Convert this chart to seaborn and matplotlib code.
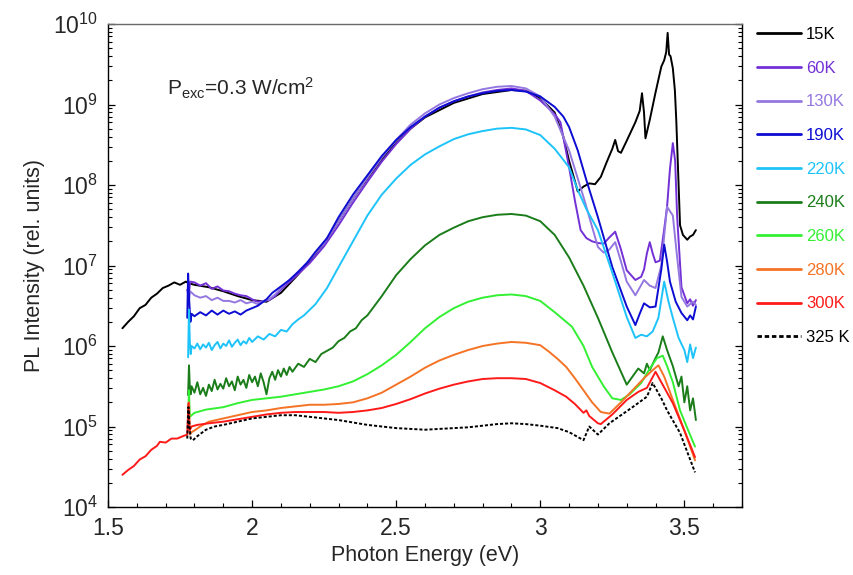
import numpy as np
import pandas as pd
import matplotlib
matplotlib.use("Agg")
import matplotlib.pyplot as plt
import seaborn as sns
from matplotlib.ticker import LogLocator, MultipleLocator

# Photoluminescence spectra, energy in eV and log10 of intensity (rel. units)
E_15K = [1.55, 1.57, 1.59, 1.61, 1.63, 1.65, 1.67, 1.69, 1.71, 1.73, 1.75, 1.77, 1.78,
         1.80, 1.85, 1.90, 1.95, 2.00, 2.05, 2.10, 2.15, 2.20, 2.25, 2.30, 2.35, 2.40,
         2.45, 2.50, 2.55, 2.60, 2.70, 2.80, 2.90, 2.95, 3.00, 3.05, 3.08, 3.10, 3.12,
         3.13, 3.15, 3.17, 3.19, 3.21, 3.23, 3.25, 3.26, 3.27, 3.28, 3.30, 3.33, 3.345,
         3.353, 3.36, 3.365, 3.38, 3.40, 3.42, 3.43, 3.437, 3.442, 3.447, 3.452, 3.46,
         3.467, 3.472, 3.478, 3.485, 3.495, 3.51, 3.52, 3.53, 3.54]
L_15K = [6.22, 6.30, 6.37, 6.47, 6.51, 6.60, 6.65, 6.72, 6.75, 6.79, 6.76, 6.80, 6.78,
         6.76, 6.73, 6.68, 6.62, 6.57, 6.55, 6.66, 6.85, 7.05, 7.28, 7.55, 7.83, 8.08,
         8.32, 8.52, 8.70, 8.84, 9.02, 9.13, 9.18, 9.17, 9.08, 8.90, 8.60, 8.30, 8.05,
         7.92, 7.98, 8.02, 8.01, 8.10, 8.28, 8.45, 8.56, 8.42, 8.40, 8.55, 8.78, 8.92,
         9.14, 8.90, 8.58, 8.81, 9.15, 9.47, 9.55, 9.65, 9.89, 9.62, 9.60, 9.45,
         9.18, 8.80, 8.20, 7.50, 7.38, 7.32, 7.36, 7.38, 7.44]

E_60K = [1.775, 1.78, 1.785, 1.80, 1.82, 1.84, 1.86, 1.88, 1.90, 1.92, 1.94, 1.96, 1.98,
         2.00, 2.02, 2.04, 2.06, 2.08, 2.10, 2.15, 2.20, 2.25, 2.30, 2.35, 2.40, 2.45,
         2.50, 2.55, 2.60, 2.65, 2.70, 2.75, 2.80, 2.85, 2.90, 2.95, 3.00, 3.03, 3.05,
         3.07, 3.10, 3.12, 3.14, 3.16, 3.18, 3.20, 3.22, 3.24, 3.26, 3.28, 3.30, 3.33,
         3.35, 3.36, 3.37, 3.38, 3.39, 3.40, 3.415, 3.43, 3.44, 3.45, 3.46, 3.468, 3.475,
         3.49, 3.51, 3.52, 3.53, 3.54]
L_60K = [6.70, 6.62, 6.80, 6.79, 6.75, 6.78, 6.71, 6.74, 6.69, 6.68, 6.65, 6.63, 6.62,
         6.58, 6.55, 6.56, 6.57, 6.62, 6.70, 6.86, 7.03, 7.24, 7.50, 7.78, 8.04, 8.29,
         8.51, 8.70, 8.85, 8.96, 9.04, 9.10, 9.15, 9.18, 9.20, 9.17, 9.05, 8.95, 8.88,
         8.78, 8.22, 7.81, 7.44, 7.34, 7.30, 7.28, 7.27, 7.35, 7.42, 7.20, 6.94, 6.82,
         6.86, 6.95, 7.15, 7.29, 7.15, 7.04, 7.06, 7.45, 7.73, 8.20, 8.52, 8.30, 7.60,
         6.73, 6.53, 6.58, 6.50, 6.57]

E_130K = [1.78, 1.785, 1.80, 1.82, 1.84, 1.86, 1.88, 1.90, 1.92, 1.94, 1.96, 1.98, 2.00,
          2.02, 2.04, 2.06, 2.08, 2.10, 2.15, 2.20, 2.25, 2.30, 2.35, 2.40, 2.45, 2.50,
          2.55, 2.60, 2.65, 2.70, 2.75, 2.80, 2.85, 2.90, 2.95, 3.00, 3.05, 3.10, 3.15,
          3.20, 3.22, 3.24, 3.26, 3.28, 3.30, 3.33, 3.36, 3.38, 3.40, 3.42, 3.44, 3.46,
          3.475, 3.49, 3.51, 3.53, 3.54]
L_130K = [6.55, 6.68, 6.63, 6.60, 6.62, 6.57, 6.60, 6.56, 6.56, 6.54, 6.57, 6.53, 6.55,
          6.52, 6.56, 6.58, 6.64, 6.72, 6.89, 7.07, 7.28, 7.55, 7.83, 8.09, 8.34, 8.56,
          8.75, 8.89, 9.00, 9.08, 9.14, 9.19, 9.22, 9.23, 9.20, 9.10, 8.85, 8.43, 7.85,
          7.23, 7.16, 7.20, 7.29, 7.05, 6.80, 6.63, 6.82, 6.75, 6.72, 7.00, 7.73, 7.62,
          7.10, 6.61, 6.49, 6.55, 6.51]

E_190K = [1.775, 1.778, 1.782, 1.786, 1.79, 1.80, 1.82, 1.84, 1.86, 1.88, 1.90, 1.92,
          1.94, 1.96, 1.98, 2.00, 2.02, 2.05, 2.07, 2.10, 2.13, 2.16, 2.19, 2.22, 2.26,
          2.30, 2.35, 2.40, 2.45, 2.50, 2.55, 2.60, 2.65, 2.70, 2.75, 2.80, 2.85, 2.90,
          2.95, 3.00, 3.05, 3.08, 3.10, 3.13, 3.16, 3.20, 3.25, 3.30, 3.33, 3.345, 3.36,
          3.38, 3.40, 3.42, 3.43, 3.44, 3.45, 3.47, 3.49, 3.51, 3.52, 3.53, 3.54]
L_190K = [6.35, 6.90, 6.55, 6.30, 6.40, 6.37, 6.42, 6.38, 6.44, 6.39, 6.44, 6.40,
          6.43, 6.39, 6.44, 6.47, 6.50, 6.58, 6.66, 6.74, 6.82, 6.92, 7.03, 7.17, 7.34,
          7.60, 7.88, 8.12, 8.36, 8.56, 8.72, 8.85, 8.96, 9.04, 9.10, 9.14, 9.17, 9.18,
          9.16, 9.10, 8.97, 8.85, 8.72, 8.43, 8.06, 7.60, 6.98, 6.49, 6.26, 6.40, 6.53,
          6.48, 6.49, 6.95, 7.26, 7.05, 6.80, 6.55, 6.41, 6.32, 6.38, 6.33, 6.49]

E_220K = [1.778, 1.781, 1.784, 1.787, 1.79, 1.80, 1.81, 1.82, 1.83, 1.84, 1.85, 1.86,
          1.87, 1.88, 1.89, 1.90, 1.91, 1.92, 1.93, 1.94, 1.95, 1.96, 1.97, 1.98, 1.99,
          2.00, 2.02, 2.04, 2.06, 2.08, 2.10, 2.12, 2.14, 2.16, 2.18, 2.20, 2.22, 2.24,
          2.26, 2.28, 2.30, 2.35, 2.40, 2.45, 2.50, 2.55, 2.60, 2.65, 2.70, 2.75, 2.80,
          2.85, 2.90, 2.95, 3.00, 3.05, 3.10, 3.13, 3.16, 3.20, 3.25, 3.30, 3.33, 3.35,
          3.37, 3.39, 3.41, 3.43, 3.445, 3.46, 3.48, 3.50, 3.51, 3.52, 3.53, 3.54]
L_220K = [5.86, 6.45, 6.05, 5.90, 6.00, 5.97, 6.03, 5.96, 6.02, 5.98, 6.04, 5.95,
          6.01, 6.05, 5.97, 6.03, 6.00, 6.07, 5.99, 6.04, 6.08, 6.01, 6.06, 6.03, 6.10,
          6.05, 6.12, 6.08, 6.15, 6.12, 6.20, 6.18, 6.27, 6.33, 6.38, 6.45, 6.52, 6.62,
          6.72, 6.85, 6.98, 7.30, 7.62, 7.88, 8.08, 8.25, 8.38, 8.48, 8.57, 8.63, 8.67,
          8.70, 8.71, 8.69, 8.62, 8.45, 8.22, 7.94, 7.70, 7.44, 6.91, 6.36, 6.10, 6.14,
          6.12, 6.18, 6.35, 6.80, 6.55, 6.35, 6.10, 5.95, 5.80, 6.02, 5.85, 5.98]

E_240K = [1.778, 1.781, 1.784, 1.787, 1.79, 1.80, 1.81, 1.82, 1.83, 1.84, 1.85, 1.86,
          1.87, 1.88, 1.89, 1.90, 1.91, 1.92, 1.93, 1.94, 1.95, 1.96, 1.97, 1.98, 1.99,
          2.00, 2.01, 2.02, 2.03, 2.04, 2.05, 2.06, 2.07, 2.08, 2.09, 2.10, 2.11, 2.12,
          2.13, 2.14, 2.16, 2.18, 2.20, 2.22, 2.24, 2.26, 2.28, 2.30, 2.32, 2.34, 2.36,
          2.38, 2.40, 2.45, 2.50, 2.55, 2.60, 2.65, 2.70, 2.75, 2.80, 2.85, 2.90, 2.95,
          3.00, 3.05, 3.10, 3.15, 3.20, 3.25, 3.30, 3.32, 3.34, 3.36, 3.37, 3.38, 3.40,
          3.41, 3.425, 3.44, 3.46, 3.48, 3.49, 3.50, 3.51, 3.52, 3.53, 3.54]
L_240K = [5.39, 5.76, 5.48, 5.40, 5.50, 5.42, 5.55, 5.40, 5.48, 5.38, 5.52, 5.44,
          5.58, 5.46, 5.53, 5.47, 5.60, 5.50, 5.56, 5.45, 5.62, 5.52, 5.58, 5.48, 5.64,
          5.55, 5.62, 5.50, 5.66, 5.55, 5.40, 5.60, 5.68, 5.58, 5.70, 5.62, 5.72, 5.64,
          5.74, 5.68, 5.78, 5.74, 5.84, 5.80, 5.90, 5.94, 5.98, 6.06, 6.10, 6.18, 6.22,
          6.32, 6.38, 6.62, 6.88, 7.08, 7.25, 7.38, 7.47, 7.55, 7.60, 7.63, 7.64, 7.62,
          7.55, 7.38, 7.10, 6.75, 6.35, 5.92, 5.52, 5.62, 5.72, 5.66, 5.78, 5.70, 5.85,
          5.92, 6.12, 5.95, 5.75, 5.50, 5.62, 5.30, 5.50, 5.20, 5.35, 5.08]

E_260K = [1.778, 1.781, 1.784, 1.79, 1.80, 1.82, 1.84, 1.86, 1.88, 1.90, 1.95, 2.00,
          2.05, 2.10, 2.15, 2.20, 2.25, 2.30, 2.35, 2.40, 2.45, 2.50, 2.55, 2.60, 2.65,
          2.70, 2.75, 2.80, 2.85, 2.90, 2.95, 3.00, 3.05, 3.11, 3.15, 3.18, 3.22, 3.25,
          3.28, 3.31, 3.35, 3.38, 3.405, 3.425, 3.44, 3.46, 3.485, 3.51, 3.537]
L_260K = [5.06, 5.45, 5.12, 5.14, 5.17, 5.19, 5.21, 5.22, 5.23, 5.24, 5.29, 5.33,
          5.35, 5.37, 5.40, 5.43, 5.46, 5.50, 5.56, 5.65, 5.76, 5.89, 6.05, 6.22, 6.36,
          6.47, 6.55, 6.60, 6.63, 6.64, 6.62, 6.56, 6.42, 6.24, 6.00, 5.74, 5.50, 5.35,
          5.33, 5.40, 5.54, 5.72, 5.85, 5.88, 5.75, 5.55, 5.20, 4.98, 4.75]

E_280K = [1.778, 1.781, 1.784, 1.79, 1.80, 1.82, 1.85, 1.90, 1.95, 2.00, 2.05, 2.10,
          2.15, 2.20, 2.25, 2.30, 2.35, 2.40, 2.45, 2.50, 2.55, 2.60, 2.65, 2.70, 2.75,
          2.80, 2.85, 2.90, 2.95, 3.00, 3.03, 3.06, 3.09, 3.12, 3.15, 3.18, 3.21, 3.24,
          3.28, 3.32, 3.36, 3.39, 3.41, 3.43, 3.46, 3.50, 3.537]
L_280K = [4.98, 5.30, 4.90, 4.93, 4.95, 5.00, 5.06, 5.10, 5.14, 5.18, 5.20, 5.23,
          5.25, 5.27, 5.27, 5.28, 5.30, 5.35, 5.42, 5.52, 5.62, 5.73, 5.82, 5.89, 5.95,
          6.00, 6.03, 6.05, 6.04, 6.01, 5.93, 5.84, 5.74, 5.60, 5.45, 5.30, 5.18, 5.16,
          5.30, 5.45, 5.60, 5.70, 5.76, 5.62, 5.33, 4.95, 4.58]

E_300K = [1.55, 1.57, 1.59, 1.61, 1.63, 1.65, 1.67, 1.68, 1.70, 1.72, 1.74, 1.76,
          1.775, 1.779, 1.783, 1.79, 1.81, 1.85, 1.90, 1.95, 2.00, 2.05, 2.10, 2.15,
          2.20, 2.25, 2.30, 2.35, 2.40, 2.45, 2.50, 2.55, 2.60, 2.65, 2.70, 2.75, 2.80,
          2.85, 2.90, 2.95, 3.00, 3.05, 3.09, 3.12, 3.15, 3.16, 3.17, 3.20, 3.21, 3.25,
          3.30, 3.34, 3.37, 3.40, 3.42, 3.46, 3.50, 3.537]
L_300K = [4.40, 4.46, 4.51, 4.59, 4.63, 4.71, 4.76, 4.81, 4.80, 4.85, 4.85, 4.88,
          4.90, 5.29, 4.95, 5.00, 5.02, 5.04, 5.06, 5.09, 5.12, 5.15, 5.17, 5.18,
          5.18, 5.18, 5.17, 5.18, 5.20, 5.23, 5.28, 5.34, 5.41, 5.47, 5.52, 5.56, 5.59,
          5.60, 5.60, 5.59, 5.54, 5.45, 5.37, 5.28, 5.17, 5.20, 5.13, 5.04, 5.03, 5.15,
          5.33, 5.43, 5.48, 5.68, 5.55, 5.29, 4.95, 4.62]

E_325K = [1.775, 1.779, 1.783, 1.787, 1.795, 1.81, 1.84, 1.87, 1.90, 1.95, 2.00, 2.05,
          2.10, 2.15, 2.20, 2.25, 2.30, 2.35, 2.40, 2.45, 2.50, 2.55, 2.60, 2.65, 2.70,
          2.75, 2.80, 2.85, 2.90, 2.95, 3.00, 3.06, 3.10, 3.15, 3.17, 3.20, 3.24, 3.28,
          3.32, 3.37, 3.39, 3.42, 3.44, 3.485, 3.537]
L_325K = [4.85, 5.24, 5.00, 4.85, 4.83, 4.88, 4.96, 5.00, 5.02, 5.06, 5.10, 5.12,
          5.14, 5.14, 5.12, 5.10, 5.08, 5.05, 5.02, 5.00, 4.98, 4.97, 4.96, 4.97, 4.98,
          4.99, 5.01, 5.03, 5.04, 5.03, 5.01, 4.98, 4.93, 4.83, 5.00, 4.90, 5.04, 5.14,
          5.24, 5.37, 5.54, 5.35, 5.20, 4.92, 4.43]

labels = ["15K", "60K", "130K", "190K", "220K", "240K", "260K", "280K", "300K", "325 K"]
colors = ["#000000", "#7330d6", "#9478e0", "#0c0cd2", "#1ec3fa", "#1a7d1a",
          "#33f033", "#f47325", "#ff1a1a", "#000000"]
energies = [E_15K, E_60K, E_130K, E_190K, E_220K, E_240K, E_260K, E_280K, E_300K, E_325K]
log_intensities = [L_15K, L_60K, L_130K, L_190K, L_220K, L_240K, L_260K, L_280K, L_300K, L_325K]

frames = []
for lab, e, li in zip(labels, energies, log_intensities):
    frames.append(pd.DataFrame({"E": e, "I": np.power(10.0, li), "T": lab}))
df = pd.concat(frames, ignore_index=True)

sns.set_theme(style="ticks")
plt.rcParams["font.family"] = ["Liberation Sans", "DejaVu Sans"]
plt.rcParams["mathtext.fontset"] = "custom"
plt.rcParams["mathtext.rm"] = "Liberation Sans"
plt.rcParams["mathtext.it"] = "Liberation Sans:italic"

fig = plt.figure(figsize=(8.54, 5.75), dpi=100)
ax = fig.add_axes([108 / 854, 1 - 507 / 575, (742 - 108) / 854, (507 - 24) / 575])

palette = dict(zip(labels, colors))
dashes = {lab: "" for lab in labels}
dashes["325 K"] = (1.6, 1.0)
sns.lineplot(data=df, x="E", y="I", hue="T", style="T", hue_order=labels,
             style_order=labels, palette=palette, dashes=dashes, estimator=None,
             sort=False, linewidth=1.4, ax=ax)

ax.set_yscale("log")
ax.set_xlim(1.5, 3.7)
ax.set_ylim(1e4, 1e10)
ax.xaxis.set_major_locator(MultipleLocator(0.5))
ax.xaxis.set_minor_locator(MultipleLocator(0.1))
ax.xaxis.set_major_formatter(matplotlib.ticker.FuncFormatter(lambda v, p: f"{v:g}"))
ax.yaxis.set_major_locator(LogLocator(base=10, numticks=10))
ax.yaxis.set_minor_locator(LogLocator(base=10, subs=np.arange(2, 10), numticks=100))

ax.tick_params(axis="both", which="both", direction="in", top=False, right=True,
               labelsize=16.5, pad=7, color="black")
ax.tick_params(which="major", length=5, width=0.9)
ax.tick_params(which="minor", length=3, width=0.8)
for side in ["left", "bottom", "right"]:
    ax.spines[side].set_color("black")
    ax.spines[side].set_linewidth(1.0)
ax.spines["top"].set_color("#6a6a6a")
ax.spines["top"].set_linewidth(1.0)

ax.set_xlabel("Photon Energy (eV)", fontsize=15.5, labelpad=4)
ax.set_ylabel("PL Intensity (rel. units)", fontsize=15.5, labelpad=6)

ax.text(1.705, 1.31e9, r"P$_{\rm exc}$=0.3 W/cm$^{2}$", fontsize=15,
        ha="left", va="baseline")

handles, labs = ax.get_legend_handles_labels()
leg = ax.legend(handles, labs, loc="upper left",
                bbox_to_anchor=(757 / 854, 1 - 27 / 575), bbox_transform=fig.transFigure,
                frameon=False, fontsize=12, handlelength=2.65, handletextpad=0.3,
                labelspacing=1.12, borderpad=0, borderaxespad=0)
for h in leg.legend_handles:
    h.set_linewidth(2.0)
for txt, col in zip(leg.get_texts(), colors):
    txt.set_color(col)

fig.savefig("out.png", dpi=100)
